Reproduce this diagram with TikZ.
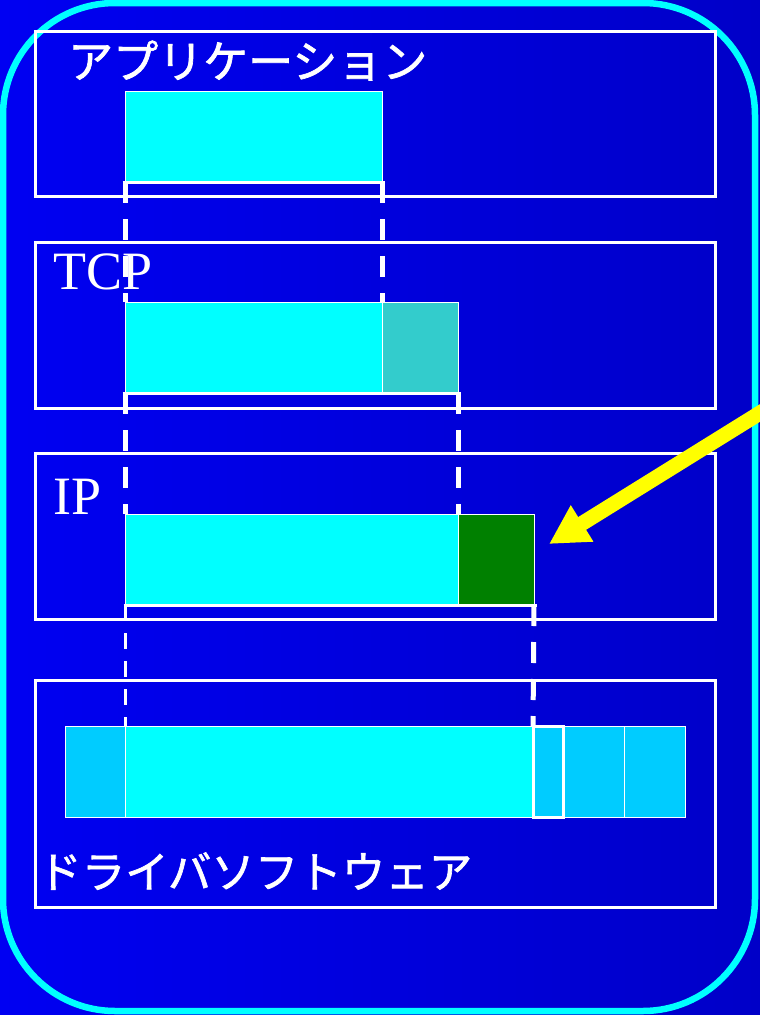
\documentclass[tikz,border=0pt]{standalone}
\usepackage{fontspec}
\setmainfont{Liberation Serif}
\newfontfamily\jpfont[FakeBold=1.5]{Noto Sans CJK JP}
\usetikzlibrary{arrows.meta}
\definecolor{bgL}{RGB}{0,0,242}
\definecolor{bgR}{RGB}{0,0,200}
\definecolor{framec}{RGB}{0,255,255}
\definecolor{datac}{RGB}{0,255,255}
\definecolor{tcphc}{RGB}{51,204,204}
\definecolor{iphc}{RGB}{0,128,0}
\definecolor{drvcol}{RGB}{0,204,255}
\definecolor{arrowy}{RGB}{255,255,0}
\begin{document}
\begin{tikzpicture}[x=1pt,y=-1pt,
  layerbox/.style={draw=white, line width=3pt, anchor=north west, inner sep=0pt, outer sep=0pt, minimum width=680pt},
  seg/.style={draw=white, line width=1pt, anchor=north west, inner sep=0pt, outer sep=0pt, minimum height=91pt},
  bracket/.style={draw=white, line width=3pt},
  guide/.style={draw=white, line width=5pt, dash pattern=on 21pt off 16pt},
  thinguide/.style={draw=white, line width=3pt, dash pattern=on 16pt off 12pt},
  jplabel/.style={text=white, anchor=base west, inner sep=0pt},
  enlabel/.style={text=white, anchor=base west, inner sep=0pt, font=\fontsize{54}{60}\selectfont},
  pointer/.style={draw=arrowy, line width=15pt, -{Triangle[length=39pt, width=40pt]}}
]
\useasboundingbox (0,0) rectangle (760,1015);
% background
\shade[left color=bgL, right color=bgR] (0,0) rectangle (760,1015);
\draw[framec, line width=6.5pt, rounded corners=112pt] (3,3) rectangle (755,1011);

% layer boxes
\node[layerbox, minimum height=165pt] (applayer) at (35,31) {};
\node[layerbox, minimum height=166pt] (tcplayer) at (35,242) {};
\node[layerbox, minimum height=166pt] (iplayer) at (35,453) {};
\node[layerbox, minimum height=227pt] (drvlayer) at (35,680) {};

% application layer
\node[seg, fill=datac, minimum width=257pt] (appdata) at (125,91) {};
% TCP layer
\node[seg, fill=datac, minimum width=257pt] (tcpdata) at (125,302) {};
\node[seg, fill=tcphc, minimum width=76pt] (tcphdr) at (382,302) {};
% IP layer
\node[seg, fill=datac, minimum width=333pt] (ipdata) at (125,514) {};
\node[seg, fill=iphc, minimum width=76pt] (iphdr) at (458,514) {};
% driver layer
\node[seg, fill=drvcol, minimum width=60pt] (drvtrail) at (65,726) {};
\node[seg, fill=datac, minimum width=408pt] (drvdata) at (125,726) {};
\node[seg, fill=drvcol, minimum width=61pt] (drvh2) at (563,726) {};
\node[seg, fill=drvcol, minimum width=61pt] (drvh3) at (624,726) {};
\node[seg, fill=drvcol, minimum width=30pt, line width=3pt] (drvh1) at (533,726) {};

% brackets
\draw[bracket] ([xshift=-2.5pt]appdata.south west) -- ([xshift=2.5pt]appdata.south east);
\draw[bracket] ([xshift=-2.5pt]tcpdata.south west) -- ([xshift=2.5pt]tcphdr.south east);
\draw[bracket] ([xshift=-1.5pt]ipdata.south west) -- ([xshift=2.5pt]iphdr.south east);

% guide lines
\draw[guide] (appdata.south west) -- (tcpdata.north west);
\draw[guide] (appdata.south east) -- (tcpdata.north east);
\draw[guide] (tcpdata.south west) -- (ipdata.north west);
\draw[guide] (tcphdr.south east) -- (ipdata.north east);
\draw[thinguide] (ipdata.south west) -- (drvdata.north west);
\draw[guide] (iphdr.south east) -- (drvh1.north west);

% labels
\node[jplabel, font=\jpfont\fontsize{45}{50}\selectfont] (applabel) at (68,78) {アプリケーション};
\node[enlabel] (tcplabel) at (53,289) {TCP};
\node[enlabel] (iplabel) at (53,514) {IP};
\node[jplabel, font=\jpfont\fontsize{43.5}{48}\selectfont] (drvlabel) at (38,888) {ドライバソフトウェア};

% arrow
\coordinate (arrowstart) at (772,405.5);
\coordinate (arrowtip) at (549,544);
\draw[pointer] (arrowstart) -- (arrowtip);
\end{tikzpicture}
\end{document}
